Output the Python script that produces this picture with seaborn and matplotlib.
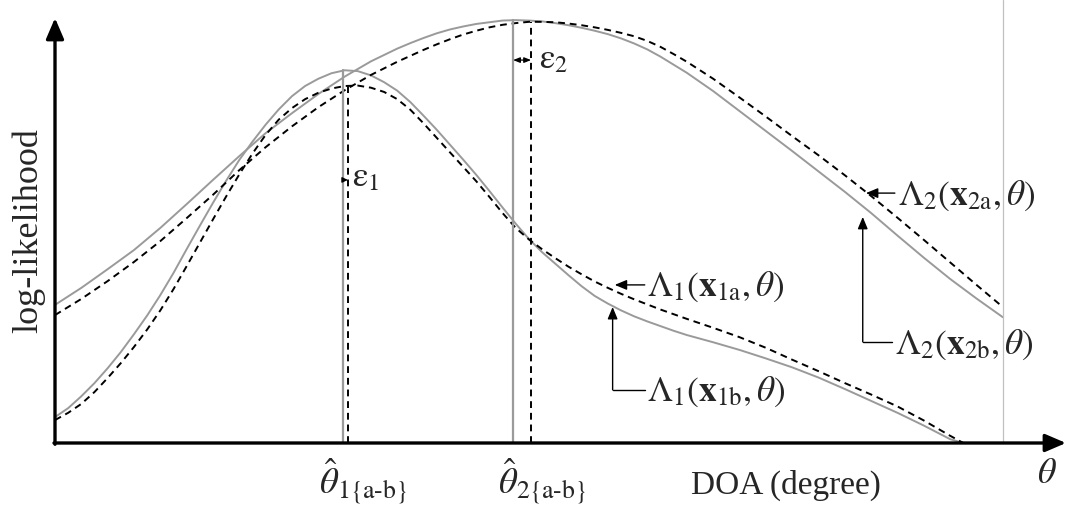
import numpy as np
import pandas as pd
import matplotlib
matplotlib.use("Agg")
import matplotlib.pyplot as plt
import seaborn as sns

# ---------------- data ----------------
# wide curves (Lambda_2): DOA grid in degrees
theta_2 = ([-90, -85, -80, -75, -70, -65, -60, -55, -50, -45, -40, -35, -30, -25,
            -22.5, -20, -17.5, -15, -12.5, -10, -7.5, -5, -2.5, 0, 2.5, 5, 7.5,
            10, 12.5, 15, 17.5, 20, 22.5, 25, 27.5, 30,
            35, 40, 45, 50, 55, 60, 65, 70, 75, 80, 85, 90])
# Lambda_2(x_2b, theta): solid grey
ll_2b = [32.5, 36.5, 40.9, 45.4, 50.6, 56.2, 61.9, 67.5, 72.9, 77.6, 82.1, 86.2, 89.8, 92.8,
         94.1, 95.3, 96.4, 97.3, 98.0, 98.6, 99.0, 99.4, 99.5, 99.4, 99.2, 98.8, 98.3,
         97.7, 97.0, 96.2, 95.2, 94.0, 92.6, 90.9, 89.0, 87.1,
         82.8, 78.1, 73.4, 68.7, 63.9, 59.1, 54.1, 48.8, 43.6, 38.6, 34.0, 29.6]
# Lambda_2(x_2a, theta): dashed black
ll_2a = [30.1, 33.9, 38.1, 42.6, 47.5, 52.9, 58.4, 64.2, 69.6, 74.5, 79.0, 83.0, 86.6, 89.7,
         91.1, 92.5, 93.8, 95.0, 96.1, 97.0, 97.8, 98.4, 98.8, 99.1, 99.1, 99.0, 98.7,
         98.3, 97.8, 97.2, 96.5, 95.7, 94.6, 93.2, 91.5, 89.7,
         85.7, 81.3, 76.8, 72.2, 67.7, 63.0, 58.1, 53.0, 47.8, 42.5, 37.2, 32.0]

# narrow curves (Lambda_1)
theta_1 = ([-90, -87.5, -85, -82.5, -80, -77.5, -75, -72.5, -70, -67.5, -65, -62.5,
            -60, -57.5, -55, -52.5, -50, -47.5, -45, -42.5, -40, -37.5, -35, -32.5,
            -30, -27.5, -25, -22.5, -20, -17.5, -15, -12.5, -10, -7.5, -5, -2.5,
            0, 2.5, 5, 7.5, 10, 12.5, 15, 17.5, 20, 22.5, 25, 27.5, 30,
            35, 40, 45, 50, 55, 60, 65, 70, 75, 80, 82.5])
# Lambda_1(x_1b, theta): solid grey
ll_1b = [6.1, 8.2, 11.0, 14.1, 17.6, 21.4, 25.6, 30.0, 34.8, 40.0, 45.6, 51.1,
         56.5, 61.7, 66.6, 70.9, 74.9, 78.5, 81.6, 84.0, 85.7, 87.0, 87.7, 87.5,
         86.5, 84.9, 82.9, 80.2, 77.0, 73.7, 70.2, 66.7, 63.1, 59.3, 55.4, 51.6,
         48.0, 44.9, 42.2, 39.5, 36.9, 34.6, 32.8, 31.2, 29.8, 28.6, 27.5, 26.4, 25.4,
         23.7, 21.9, 19.9, 17.8, 15.4, 12.7, 9.9, 7.1, 4.1, 0.9, 0.0]
# Lambda_1(x_1a, theta): dashed black
ll_1a = [5.4, 7.1, 9.2, 12.0, 15.3, 18.8, 22.6, 26.7, 31.2, 36.2, 41.6, 47.1,
         52.6, 58.0, 63.2, 68.1, 72.5, 76.1, 78.8, 80.9, 82.4, 83.4, 84.0, 84.1,
         83.6, 82.6, 80.9, 78.4, 75.2, 71.8, 68.4, 65.0, 61.6, 57.9, 54.1, 50.6,
         47.9, 45.6, 43.5, 41.5, 39.7, 38.0, 36.5, 35.1, 33.8, 32.6, 31.4, 30.3, 29.2,
         27.1, 24.9, 22.4, 19.6, 16.9, 14.1, 11.4, 8.6, 5.3, 1.7, 0.0]

# peak estimates (theta_hat, value)
peak_theta = [-35.3, -34.4, -3.0, 0.4]
peak_value = [87.7, 84.0, 99.5, 99.1]
peak_style = ["solid", "dashed", "solid", "dashed"]

# ---------------- style ----------------
sns.set_theme(style="white")
plt.rcParams["font.family"] = ["Liberation Serif", "DejaVu Serif"]
plt.rcParams["mathtext.fontset"] = "stix"

GREY = "#9a9a9a"
DASH = (0, (3.5, 2.5))

fig = plt.figure(figsize=(10.69, 5.08), dpi=100)
ax = fig.add_axes([55 / 1069, 65 / 508, 1011 / 1069, 425 / 508])

df_2b = pd.DataFrame({"theta": theta_2, "ll": ll_2b})
df_2a = pd.DataFrame({"theta": theta_2, "ll": ll_2a})
df_1b = pd.DataFrame({"theta": theta_1, "ll": ll_1b})
df_1a = pd.DataFrame({"theta": theta_1, "ll": ll_1a})

sns.lineplot(data=df_2b, x="theta", y="ll", color=GREY, lw=1.4, ax=ax, sort=False)
sns.lineplot(data=df_1b, x="theta", y="ll", color=GREY, lw=1.4, ax=ax, sort=False)
sns.lineplot(data=df_2a, x="theta", y="ll", color="black", lw=1.4, ls=DASH, ax=ax, sort=False)
sns.lineplot(data=df_1a, x="theta", y="ll", color="black", lw=1.4, ls=DASH, ax=ax, sort=False)

# vertical lines at the peaks
for t, v, s in zip(peak_theta, peak_value, peak_style):
    if s == "solid":
        ax.plot([t, t], [0, v], color=GREY, lw=1.6)
    else:
        ax.plot([t, t], [0, v], color="black", lw=1.4, ls=DASH)

ax.set_xlim(-90, 102)
ax.set_ylim(0, 100)
for sp in ax.spines.values():
    sp.set_visible(False)
ax.set_xticks([])
ax.set_yticks([])
ax.set_xlabel("")
ax.set_ylabel("")

# thin grey boundary line at theta = 90
ax.plot([90, 90], [0, 104.2], color="#c0c0c0", lw=0.9, clip_on=False)

# axes with arrows
arrow_kw = dict(arrowstyle="-|>,head_length=0.7,head_width=0.3", lw=2.4,
                color="black", shrinkA=0, shrinkB=0, mutation_scale=18)
ax.annotate("", xy=(1.0, 0), xytext=(-0.001, 0), xycoords="axes fraction",
            textcoords="axes fraction", arrowprops=arrow_kw, annotation_clip=False)
ax.annotate("", xy=(0, 1.0), xytext=(0, -0.003), xycoords="axes fraction",
            textcoords="axes fraction", arrowprops=arrow_kw, annotation_clip=False)

# epsilon markers
small = dict(arrowstyle="<|-|>,head_length=0.5,head_width=0.2", lw=0.9,
             color="black", shrinkA=0, shrinkB=0, mutation_scale=8)
ax.annotate("", xy=(peak_theta[3], 90.1), xytext=(peak_theta[2], 90.1),
            arrowprops=small)
ax.text(2.0, 90.3, r"$\mathrm{ε}_2$", fontsize=25, va="center", ha="left")
ax.annotate("", xy=(peak_theta[1], 61.9), xytext=(peak_theta[0], 61.9),
            arrowprops=dict(arrowstyle="-|>,head_length=0.4,head_width=0.2",
                            lw=0.9, color="black", shrinkA=0, shrinkB=0,
                            mutation_scale=8))
ax.text(-33.6, 62.4, r"$\mathrm{ε}_1$", fontsize=25, va="center", ha="left")

# curve labels
lab = dict(fontsize=25.5, va="center", ha="left")
ptr = dict(arrowstyle="-|>,head_length=0.6,head_width=0.25", lw=1.0,
           color="black", shrinkA=0, shrinkB=0, mutation_scale=12)
ax.text(22.4, 36.7, r"$\Lambda_1(\mathbf{x}_{\mathrm{1a}},\theta)$", **lab)
ax.annotate("", xy=(16.3, 37.2), xytext=(22.0, 37.2), arrowprops=ptr)

ax.text(22.4, 12.0, r"$\Lambda_1(\mathbf{x}_{\mathrm{1b}},\theta)$", **lab)
ax.plot([22.0, 15.9], [12.5, 12.5], color="black", lw=1.0)
ax.annotate("", xy=(15.9, 32.0), xytext=(15.9, 12.5), arrowprops=ptr)

ax.text(70.1, 58.1, r"$\Lambda_2(\mathbf{x}_{\mathrm{2a}},\theta)$", **lab)
ax.annotate("", xy=(64.0, 58.8), xytext=(69.5, 58.8), arrowprops=ptr)

ax.text(69.5, 23.1, r"$\Lambda_2(\mathbf{x}_{\mathrm{2b}},\theta)$", **lab)
ax.plot([68.9, 63.4], [23.8, 23.8], color="black", lw=1.0)
ax.annotate("", xy=(63.4, 53.2), xytext=(63.4, 23.8), arrowprops=ptr)

# x-axis texts
ax.text(-39.9, -9.0, r"$\hat{\theta}_{1\{\mathrm{a‐b}\}}$", fontsize=26.5,
        va="center", ha="left", clip_on=False)
ax.text(-5.9, -9.0, r"$\hat{\theta}_{2\{\mathrm{a‐b}\}}$", fontsize=26.5,
        va="center", ha="left", clip_on=False)
ax.text(48.8, -9.9, "DOA (degree)", fontsize=24, va="center", ha="center",
        clip_on=False)
ax.text(98.4, -7.3, r"$\theta$", fontsize=26, va="center", ha="center",
        clip_on=False)

fig.text(29 / 1069, 1 - 231 / 508, "log-likelihood", rotation=90, fontsize=26,
         va="center", ha="center")

fig.savefig("out.png", dpi=100, facecolor="white")
